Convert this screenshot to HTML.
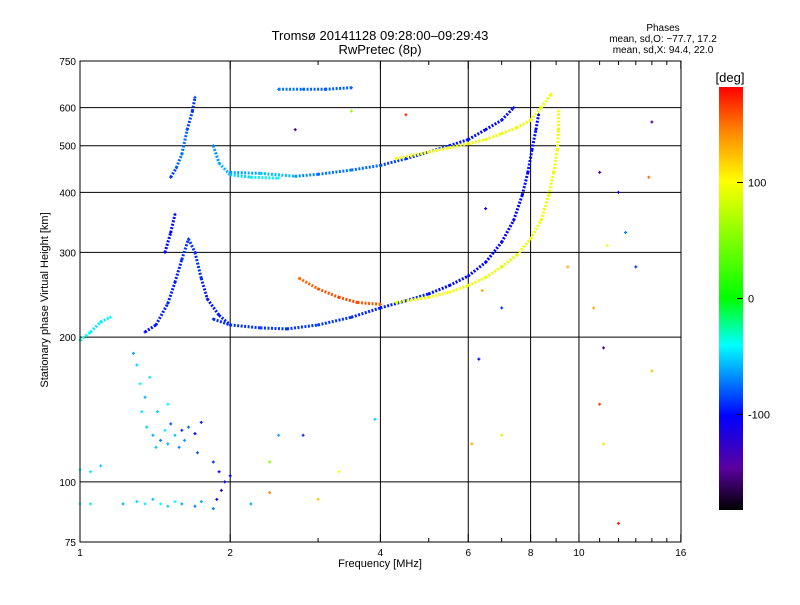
<!DOCTYPE html>
<html><head><meta charset="utf-8"><style>
body{margin:0;background:#fff;font-family:"Liberation Sans",sans-serif}
svg text{font-family:"Liberation Sans",sans-serif;fill:#000}
</style></head><body>
<svg id="c" width="800" height="600" xmlns="http://www.w3.org/2000/svg">
<defs><linearGradient id="cb" x1="0" y1="1" x2="0" y2="0">
<stop offset="0" stop-color="#000"/><stop offset="0.1" stop-color="#5a00a0"/><stop offset="0.222" stop-color="#0000ff"/><stop offset="0.39" stop-color="#00ffff"/><stop offset="0.5" stop-color="#00ff00"/><stop offset="0.778" stop-color="#ffff00"/><stop offset="0.9" stop-color="#ff8000"/><stop offset="1" stop-color="#ff0000"/></linearGradient></defs>
<text x="380" y="40" font-size="13" text-anchor="middle">Tromsø 20141128 09:28:00–09:29:43</text>
<text x="380" y="54" font-size="13" text-anchor="middle">RwPretec (8p)</text>
<text x="663" y="31" font-size="10" text-anchor="middle">Phases</text>
<text x="663" y="42" font-size="10" text-anchor="middle">mean, sd,O: −77.7, 17.2</text>
<text x="663" y="53" font-size="10" text-anchor="middle">mean, sd,X:  94.4, 22.0</text>
<g id="grid"></g>
<g id="marks"></g>
<rect x="80" y="61" width="601" height="481" fill="none" stroke="#000"/>
<g id="axes"></g>
<text x="380" y="567" font-size="11" text-anchor="middle">Frequency [MHz]</text>
<text transform="translate(48,300) rotate(-90)" font-size="11" text-anchor="middle">Stationary phase Virtual Height [km]</text>
<rect x="719" y="87" width="24" height="423" fill="url(#cb)"/>
<text x="730" y="82" font-size="13" text-anchor="middle">[deg]</text>
<g id="cbt"></g>
</svg>
<script>
const xTicks=[1,2,4,6,8,10,16];
const yTicks=[75,100,200,300,400,500,600,750];
const gridX=[2,4,6,8,10];
const gridY=[100,200,300,400,500,600];
const cbTicks=[100,0,-100];
// traces: each [freq MHz, height km, phase deg]
const traceOLow=[[1.85,218,-90],[2,212,-90],[2.3,209,-85],[2.6,208,-90],[3,212,-85],[3.5,220,-90],[4,230,-95],[4.5,238,-90],[5,246,-95],[5.5,256,-100],[6,268,-95],[6.5,286,-100],[7,315,-100],[7.4,350,-105],[7.7,395,-95],[7.9,440,-100],[8.05,490,-95],[8.2,540,-100],[8.3,580,-100]];
const traceOrange=[[2.75,265,150],[3,252,155],[3.3,242,160],[3.6,236,160],[4,234,150]];
const traceX=[[4.3,236,90],[5,242,95],[5.5,248,100],[6,256,90],[6.5,266,95],[7,280,85],[7.5,296,90],[8,320,95],[8.4,350,90],[8.7,395,95],[8.9,440,90],[9.05,490,95],[9.1,540,90],[9.1,590,95]];
const traceBackO=[[2,440,-70],[2.3,438,-50],[2.7,432,-60],[3,436,-75],[3.5,445,-70],[4,455,-80],[4.5,470,-90],[5,485,-90],[5.5,500,-95],[6,515,-95],[6.5,540,-100],[7,565,-95],[7.4,600,-100]];
const traceBackX=[[4.3,470,95],[5,485,100],[5.5,495,100],[6,505,90],[6.5,515,95],[7,530,95],[7.5,545,90],[8,565,95],[8.4,600,90],[8.8,640,95]];
const traceSpikeLow=[[1.35,205,-100],[1.42,212,-95],[1.5,235,-90],[1.55,260,-95],[1.6,290,-90],[1.65,320,-85],[1.7,300,-90],[1.75,265,-90],[1.8,240,-95],[1.9,222,-95],[2,212,-90]];
const traceSpikeEcho=[[1.48,300,-100],[1.52,330,-100],[1.55,360,-95]];
const traceSpikeHigh=[[1.52,430,-90],[1.56,450,-80],[1.6,480,-70],[1.64,540,-80],[1.68,590,-90],[1.7,630,-85]];
const traceCusp=[[1.85,500,-70],[1.9,460,-60],[2,435,-55],[2.2,430,-45],[2.5,428,-40]];
const traceTop=[[2.5,655,-70],[2.8,655,-75],[3.1,655,-80],[3.5,660,-75]];
const traceLowLeft=[[1,197,-30],[1.05,205,-40],[1.1,215,-45],[1.15,220,-40]];
const traces=[traceOLow,traceOrange,traceX,traceBackO,traceBackX,traceSpikeLow,traceSpikeEcho,traceSpikeHigh,traceCusp,traceTop,traceLowLeft];
const lowEchoes=[[1.3,175,-50],[1.32,160,-40],[1.35,150,-60],[1.33,140,-45],[1.36,130,-50],[1.4,125,-60],[1.42,118,-55],[1.45,122,-70],[1.48,128,-45],[1.5,120,-60],[1.52,132,-80],[1.55,125,-55],[1.58,118,-70],[1.6,128,-90],[1.62,122,-60],[1.65,130,-75],[1.7,126,-100],[1.75,133,-95],[1.43,140,-50],[1.5,145,-40],[1.28,185,-60],[1.38,165,-45],[1.72,115,-80],[1.85,110,-90],[1.9,105,-100],[1.95,100,-110],[2,103,-100],[1.88,92,-100],[1.92,96,-110],
[1,106,-40],[1.05,105,-45],[1.1,108,-50],
[1,90,-40],[1.05,90,-45],[1.3,91,-50],[1.35,90,-45],[1.4,92,-55],[1.45,90,-40],[1.5,89,-50],[1.55,91,-40],[1.6,90,-60],[1.7,89,-70],[1.75,91,-60],[1.85,88,-70],[1.22,90,-60],[2.2,90,-60]];
const scatter=[[6.3,180,-100],[6.5,370,-110],[6.4,250,130],[11,145,160],[11,440,-140],[12,400,-110],[12.4,330,-70],[13,280,-90],[14,560,-140],[13.8,430,150],[11.4,310,100],[11.2,190,-150],[10.7,230,130],[12,82,170],[11.2,120,110],[14,170,120],[3.5,590,60],[4.5,580,170],[2.7,540,-150],[2.5,125,-60],[2.8,125,-90],[3.3,105,100],[2.4,110,50],[2.4,95,140],[3,92,120],[6.1,120,130],[7,125,80],[3.9,135,-50],[7,230,-90],[9.5,280,130]];

const X=f=>80+Math.log2(f)*150.2;
const Y=h=>542-Math.log10(h/75)*481;
const stops=[[0,[0,0,0]],[0.1,[90,0,160]],[0.222,[0,0,255]],[0.39,[0,255,255]],[0.5,[0,255,0]],[0.778,[255,255,0]],[0.9,[255,128,0]],[1,[255,0,0]]];
function col(p){let t=Math.max(0,Math.min(1,(p+180)/360));for(let i=1;i<stops.length;i++){if(t<=stops[i][0]){const a=stops[i-1],b=stops[i],u=(t-a[0])/(b[0]-a[0]);return 'rgb('+a[1].map((v,k)=>Math.round(v+(b[1][k]-v)*u)).join(',')+')';}}return 'red';}
const NS='http://www.w3.org/2000/svg';
function mk(t,a,p){const e=document.createElementNS(NS,t);for(const k in a)e.setAttribute(k,a[k]);p.appendChild(e);return e;}
const g=document.getElementById('grid'),ax=document.getElementById('axes'),m=document.getElementById('marks'),cb=document.getElementById('cbt');
gridX.forEach(f=>{const l=mk('line',{x1:X(f),x2:X(f),y1:61,y2:542,stroke:'#000'},g);

});
gridY.forEach(h=>{const l=mk('line',{x1:80,x2:681,y1:Y(h),y2:Y(h),stroke:'#000'},g);

});
xTicks.forEach(f=>{const t=mk('text',{x:X(f),y:556,'font-size':10,'text-anchor':'middle'},ax);t.textContent=f;


[61,542].forEach(y=>mk('line',{x1:X(f),x2:X(f),y1:y,y2:y+(y<100?8:-8),stroke:'#000'},ax));});
for(let f=1;f<16;f+=1){if(xTicks.includes(f))continue;[61,542].forEach(y=>mk('line',{x1:X(f),x2:X(f),y1:y,y2:y+(y<100?4:-4),stroke:'#000'},ax));}
yTicks.forEach(h=>{const t=mk('text',{x:76,y:Y(h)+4,'font-size':10,'text-anchor':'end'},ax);t.textContent=h;

});
cbTicks.forEach(v=>{const y=298.5-v*1.16;mk('line',{x1:743,x2:737,y1:y,y2:y,stroke:'#000'},cb);const t=mk('text',{x:748,y:y+4,'font-size':11},cb);t.textContent=v;

});
function pt(p){const x=X(p[0]),y=Y(p[1]),c=col(p[2]);
const e=mk('path',{d:`M${x-1.5},${y}h3M${x},${y-1.5}v3`,stroke:c,'stroke-width':1.2},m);

}
traces.forEach(tr=>{for(let i=1;i<tr.length;i++){const a=tr[i-1],b=tr[i];
const l=mk('line',{x1:X(a[0]),y1:Y(a[1]),x2:X(b[0]),y2:Y(b[1]),stroke:col((a[2]+b[2])/2),'stroke-width':3,'stroke-dasharray':'2 1.5'},m);

}
tr.forEach(pt);});
lowEchoes.forEach(pt);
scatter.forEach(pt);
</script>
</body></html>
